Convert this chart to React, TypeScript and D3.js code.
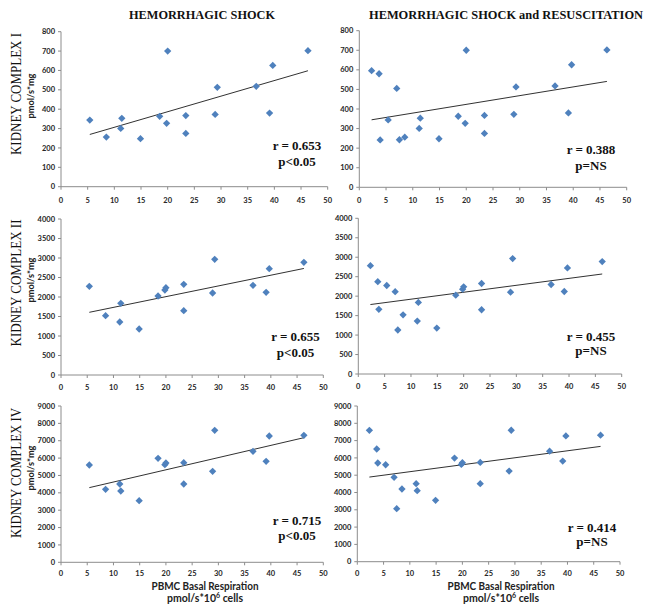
import React from 'react';
import * as d3 from 'd3';

// ---------- data ----------
const basalX = [5.4, 8.5, 11.2, 11.4, 14.9, 18.5, 19.8, 20.0, 23.4, 23.4, 28.9, 29.3, 36.6, 39.1, 39.7, 46.3];
const extraX = [2.3, 3.7, 3.9, 7.0, 7.5];

const complexIShock = [344, 256, 301, 353, 248, 363, 327, 700, 367, 275, 373, 513, 518, 380, 626, 702];
const complexIExtra = [596, 580, 242, 505, 243];

const complexIIShock = [2274, 1521, 1359, 1838, 1179, 2026, 2179, 2239, 2325, 1650, 2103, 2966, 2299, 2120, 2726, 2889];
const complexIIExtra = [2784, 2373, 1662, 2116, 1131];

const complexIVShock = [5603, 4203, 4510, 4107, 3550, 5987, 5623, 5719, 5738, 4510, 5239, 7599, 6390, 5815, 7273, 7311];
const complexIVExtra = [7593, 6514, 5704, 4876, 3064];

const columnTitles = ['HEMORRHAGIC SHOCK', 'HEMORRHAGIC SHOCK and RESUSCITATION'];
const rowTitles = ['KIDNEY COMPLEX I', 'KIDNEY COMPLEX II', 'KIDNEY COMPLEX IV'];
const yMaxes = [800, 4000, 9000];
const yTickCounts = [8, 8, 9];
const rLabels = [['r = 0.653', 'r = 0.388'], ['r = 0.655', 'r = 0.455'], ['r = 0.715', 'r = 0.414']];
const pLabels = [['p<0.05', 'p=NS'], ['p<0.05', 'p=NS'], ['p<0.05', 'p=NS']];
const yUnit = 'pmol/s*mg';
const xTitle = 'PBMC Basal Respiration';

const shockSeries = [complexIShock, complexIIShock, complexIVShock];
const extraSeries = [complexIExtra, complexIIExtra, complexIVExtra];

// ---------- layout ----------
type Frame = { x0: number; x1: number; yb: number; yt: number; sx: number; rY: number; pY: number; tk: number };
const frames: Frame[][] = [
  [
    { x0: 61, x1: 327.7, yb: 186.7, yt: 31.7, sx: 297, rY: 150, pY: 166, tk: 16.5 },
    { x0: 359.3, x1: 626.7, yb: 187.3, yt: 30.7, sx: 591, rY: 154, pY: 170, tk: 16 },
  ],
  [
    { x0: 61, x1: 323.3, yb: 375, yt: 219, sx: 295.5, rY: 341, pY: 357, tk: 15 },
    { x0: 358.3, x1: 621.7, yb: 374, yt: 218.3, sx: 591, rY: 341, pY: 355, tk: 15 },
  ],
  [
    { x0: 61, x1: 323.3, yb: 562.3, yt: 406, sx: 297, rY: 524.5, pY: 539.5, tk: 14 },
    { x0: 357.3, x1: 620, yb: 561.7, yt: 406, sx: 592, rY: 531.5, pY: 546, tk: 14 },
  ],
];

const rowLabelCenters = [94, 283, 473];
const rowLabelLengths = [122, 127, 130];
const unitCenters = [96, 280, 468];

const MARKER = '#4F81BD';
const AXIS = '#8c8c8c';
const TICKTXT = '#262626';

function regression(xs: number[], ys: number[]) {
  const mx = d3.mean(xs)!;
  const my = d3.mean(ys)!;
  let sxy = 0, sxx = 0;
  xs.forEach((x, i) => { sxy += (x - mx) * (ys[i] - my); sxx += (x - mx) * (x - mx); });
  const b = sxy / sxx;
  const a = my - b * mx;
  return (x: number) => a + b * x;
}

function Panel({ f, xs, ys, yMax, yTicks, rText, pText }: { f: Frame; xs: number[]; ys: number[]; yMax: number; yTicks: number; rText: string; pText: string }) {
  const x = d3.scaleLinear().domain([0, 50]).range([f.x0, f.x1]);
  const y = d3.scaleLinear().domain([0, yMax]).range([f.yb, f.yt]);
  const fit = regression(xs, ys);
  const [xmin, xmax] = d3.extent(xs) as [number, number];
  const line = d3.line<number>().x(d => x(d)).y(d => y(fit(d)));
  const diamond = d3.symbol().type(d3.symbolDiamond2).size(34)();
  return (
    <g>
      <line x1={f.x0} x2={f.x1} y1={f.yb} y2={f.yb} stroke={AXIS} strokeWidth={1} />
      <line x1={f.x0} x2={f.x0} y1={f.yb} y2={f.yt} stroke={AXIS} strokeWidth={1} />
      {x.ticks(10).map(t => (
        <g key={'x' + t}>
          <line x1={x(t)} x2={x(t)} y1={f.yb} y2={f.yb + 3} stroke={AXIS} />
          <text x={x(t)} y={f.yb + f.tk} textAnchor="middle" fontSize={7.5} fontWeight="bold" fontFamily="Lato, 'Liberation Sans', sans-serif" fill={TICKTXT}>{t}</text>
        </g>
      ))}
      {y.ticks(yTicks).map(t => (
        <g key={'y' + t}>
          <line x1={f.x0 - 3} x2={f.x0} y1={y(t)} y2={y(t)} stroke={AXIS} />
          <text x={f.x0 - 6} y={y(t) + 2.6} textAnchor="end" fontSize={7.5} fontWeight="bold" fontFamily="Lato, 'Liberation Sans', sans-serif" fill={TICKTXT}>{t}</text>
        </g>
      ))}
      <path d={line([xmin, xmax]) || ''} stroke="#1a1a1a" strokeWidth={0.9} fill="none" />
      {xs.map((v, i) => (
        <path key={i} d={diamond || ''} transform={`translate(${x(v)},${y(ys[i])})`} fill={MARKER} />
      ))}
      <text x={f.sx} y={f.rY} textAnchor="middle" fontSize={13} fontWeight="bold" fontFamily="'Liberation Serif', serif" fill="#111">{rText}</text>
      <text x={f.sx} y={f.pY} textAnchor="middle" fontSize={13} fontWeight="bold" fontFamily="'Liberation Serif', serif" fill="#111">{pText}</text>
    </g>
  );
}

export default function App() {
  return (
    <svg width={654} height={612} style={{ position: 'absolute', left: 0, top: 0, background: '#fff' }}>
      <rect width={654} height={612} fill="#fff" />
      <text x={202} y={19} textAnchor="middle" fontSize={13} fontWeight="bold" fontFamily="'Liberation Serif', serif" textLength={146} lengthAdjust="spacingAndGlyphs" fill="#111">{columnTitles[0]}</text>
      <text x={506} y={19} textAnchor="middle" fontSize={11.5} fontWeight="bold" fontFamily="'Liberation Serif', serif" textLength={274} lengthAdjust="spacingAndGlyphs" fill="#111">{columnTitles[1]}</text>
      {rowTitles.map((t, r) => (
        <g key={t}>
          <text transform={`translate(20.5,${rowLabelCenters[r]}) rotate(-90)`} textAnchor="middle" fontSize={15} fontFamily="'Liberation Serif', serif" textLength={rowLabelLengths[r]} lengthAdjust="spacingAndGlyphs" fill="#111">{t}</text>
          <text transform={`translate(34,${unitCenters[r]}) rotate(-90)`} textAnchor="middle" fontSize={8.5} fontWeight="bold" fontFamily="Lato, 'Liberation Sans', sans-serif" textLength={45} lengthAdjust="spacingAndGlyphs" fill="#222">{yUnit}</text>
        </g>
      ))}
      {frames.map((row, r) => row.map((f, c) => {
        const xs = c === 0 ? basalX : basalX.concat(extraX);
        const ys = c === 0 ? shockSeries[r] : shockSeries[r].concat(extraSeries[r]);
        return <Panel key={r + '-' + c} f={f} xs={xs} ys={ys} yMax={yMaxes[r]} yTicks={yTickCounts[r]} rText={rLabels[r][c]} pText={pLabels[r][c]} />;
      }))}
      {[205, 501].map(cx => (
        <g key={cx}>
          <text x={cx} y={589.5} textAnchor="middle" fontSize={10.5} fontWeight="bold" fontFamily="Lato, 'Liberation Sans', sans-serif" textLength={107} lengthAdjust="spacingAndGlyphs" fill="#222">{xTitle}</text>
          <text x={cx} y={602} textAnchor="middle" fontSize={10.5} fontWeight="bold" fontFamily="Lato, 'Liberation Sans', sans-serif" fill="#222">
            pmol/s*10<tspan fontSize={7} dy={-4}>6</tspan><tspan dy={4}> cells</tspan>
          </text>
        </g>
      ))}
    </svg>
  );
}
